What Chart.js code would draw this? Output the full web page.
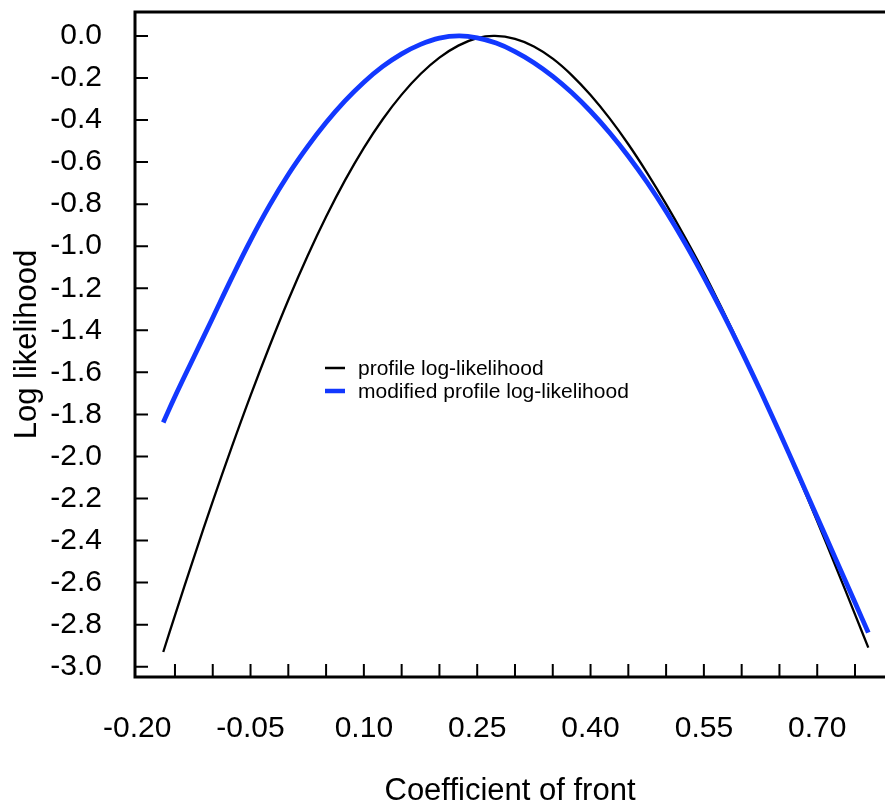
<!DOCTYPE html>
<html>
<head>
<meta charset="utf-8">
<title>Log likelihood</title>
<script src="https://cdn.jsdelivr.net/npm/chart.js@4.4.0/dist/chart.umd.min.js"></script>
<style>
  html, body { margin: 0; padding: 0; background: #fff; }
  canvas { display: block; }
</style>
</head>
<body>
<canvas id="grafico" width="885" height="810"></canvas>
<script>
// valores
const xProfile = [-0.1655, -0.15, -0.125, -0.10, -0.075, -0.05, -0.025, 0.0, 0.025, 0.05,
                  0.075, 0.10, 0.125, 0.15, 0.175, 0.20, 0.225, 0.25, 0.2735, 0.30,
                  0.325, 0.35, 0.375, 0.40, 0.425, 0.45, 0.475, 0.50, 0.525, 0.55,
                  0.575, 0.60, 0.625, 0.65, 0.675, 0.70, 0.725, 0.75, 0.7676];
const yProfile = [-2.930, -2.756, -2.481, -2.214, -1.957, -1.711, -1.477, -1.256, -1.050, -0.860,
                  -0.687, -0.532, -0.396, -0.279, -0.181, -0.103, -0.046, -0.010, 0.0, -0.014,
                  -0.050, -0.108, -0.186, -0.281, -0.391, -0.515, -0.652, -0.800, -0.958, -1.125,
                  -1.305, -1.492, -1.686, -1.887, -2.095, -2.309, -2.528, -2.751, -2.909];

const xModified = [-0.1655, -0.15, -0.125, -0.10, -0.075, -0.05, -0.025, 0.0, 0.025, 0.05,
                   0.075, 0.10, 0.125, 0.15, 0.175, 0.20, 0.226, 0.25, 0.275, 0.30,
                   0.325, 0.35, 0.375, 0.40, 0.425, 0.45, 0.475, 0.50, 0.525, 0.55,
                   0.575, 0.60, 0.625, 0.65, 0.675, 0.70, 0.725, 0.75, 0.7676];
const yModified = [-1.838, -1.715, -1.527, -1.340, -1.152, -0.972, -0.807, -0.659, -0.529, -0.412,
                   -0.309, -0.220, -0.145, -0.085, -0.040, -0.010, 0.0, -0.009, -0.034, -0.074,
                   -0.127, -0.192, -0.269, -0.358, -0.459, -0.572, -0.697, -0.835, -0.985, -1.147,
                   -1.319, -1.500, -1.689, -1.885, -2.086, -2.289, -2.492, -2.695, -2.838];

const seriesNames = ['profile log-likelihood', 'modified profile log-likelihood'];

const xTickValues = [-0.20, -0.15, -0.10, -0.05, 0.00, 0.05, 0.10, 0.15, 0.20, 0.25,
                     0.30, 0.35, 0.40, 0.45, 0.50, 0.55, 0.60, 0.65, 0.70, 0.75];
const xTickLabels = [-0.20, -0.05, 0.10, 0.25, 0.40, 0.55, 0.70];
const yTickValues = [0.0, -0.2, -0.4, -0.6, -0.8, -1.0, -1.2, -1.4, -1.6, -1.8,
                     -2.0, -2.2, -2.4, -2.6, -2.8, -3.0];

const fonte = '"Liberation Sans", Helvetica, Arial, sans-serif';
Chart.defaults.font.family = fonte;
Chart.defaults.color = '#000';

function pontos(xs, ys) {
  return xs.map((x, i) => ({ x: x, y: ys[i] }));
}

// eixos abertos com ticks para dentro
const eixos = {
  id: 'eixos',
  afterDraw(chart) {
    const ctx = chart.ctx;
    const a = chart.chartArea;
    const sx = chart.scales.x;
    const sy = chart.scales.y;
    ctx.save();
    ctx.strokeStyle = '#000';
    ctx.lineWidth = 3;
    ctx.beginPath();
    ctx.moveTo(a.right, a.top);
    ctx.lineTo(a.left, a.top);
    ctx.lineTo(a.left, a.bottom);
    ctx.lineTo(a.right, a.bottom);
    ctx.stroke();
    ctx.lineWidth = 2;
    ctx.beginPath();
    xTickValues.forEach(v => {
      const px = sx.getPixelForValue(v);
      if (px - a.left < 4) return;
      ctx.moveTo(px, a.bottom);
      ctx.lineTo(px, a.bottom - 13);
    });
    yTickValues.forEach(v => {
      const py = sy.getPixelForValue(v);
      ctx.moveTo(a.left, py);
      ctx.lineTo(a.left + 13, py);
    });
    ctx.stroke();
    ctx.restore();
  }
};

// legenda dentro do grafico
const legenda = {
  id: 'legenda',
  afterDraw(chart) {
    const ctx = chart.ctx;
    ctx.save();
    ctx.font = '21px ' + fonte;
    ctx.textBaseline = 'middle';
    ctx.textAlign = 'left';
    chart.data.datasets.forEach((ds, i) => {
      const yy = 368 + i * 23;
      ctx.strokeStyle = ds.borderColor;
      ctx.lineWidth = i == 0 ? 2.5 : 4.5;
      ctx.beginPath();
      ctx.moveTo(325, yy);
      ctx.lineTo(345, yy);
      ctx.stroke();
      ctx.fillStyle = '#000';
      ctx.fillText(ds.label, 358, yy + 1);
    });
    ctx.restore();
  }
};

const ctx = document.getElementById('grafico').getContext('2d');
const grafico = new Chart(ctx, {
  type: 'line',
  data: {
    datasets: [{
      label: seriesNames[0],
      data: pontos(xProfile, yProfile),
      borderColor: '#000000',
      borderWidth: 2.3,
      order: 2
    }, {
      label: seriesNames[1],
      data: pontos(xModified, yModified),
      borderColor: '#1238ff',
      borderWidth: 4.8,
      order: 1
    }]
  },
  options: {
    responsive: false,
    animation: false,
    events: [],
    layout: { padding: { top: 12, right: 0, bottom: 0, left: 0 } },
    elements: {
      point: { radius: 0 },
      line: { tension: 0.4, borderCapStyle: 'butt', fill: false }
    },
    plugins: {
      legend: { display: false },
      tooltip: { enabled: false }
    },
    scales: {
      x: {
        type: 'linear',
        min: -0.2029,
        max: 0.7897,
        grid: { display: false, drawTicks: false },
        border: { display: false },
        afterBuildTicks: s => { s.ticks = xTickValues.map(v => ({ value: v })); },
        afterFit: s => { s.height = 133; s.paddingLeft = 0; s.paddingRight = 0; },
        ticks: {
          autoSkip: false,
          maxRotation: 0,
          minRotation: 0,
          padding: 34,
          color: '#000',
          font: { size: 30 },
          callback: v => xTickLabels.some(l => Math.abs(l - v) < 1e-6) ? v.toFixed(2) : ''
        },
        title: {
          display: true,
          text: 'Coefficient of front',
          color: '#000',
          font: { size: 31 },
          padding: { top: 0, bottom: 0 }
        }
      },
      y: {
        type: 'linear',
        min: -3.049,
        max: 0.114,
        grid: { display: false, drawTicks: false },
        border: { display: false },
        afterBuildTicks: s => { s.ticks = yTickValues.map(v => ({ value: v })); },
        afterFit: s => { s.width = 135; s.paddingTop = 0; s.paddingBottom = 0; },
        ticks: {
          padding: 33,
          color: '#000',
          font: { size: 30 },
          callback: v => v.toFixed(1)
        },
        title: {
          display: true,
          text: 'Log likelihood',
          color: '#000',
          font: { size: 31 },
          padding: { top: 9, bottom: 0 }
        }
      }
    }
  },
  plugins: [eixos, legenda]
});
</script>
</body>
</html>
